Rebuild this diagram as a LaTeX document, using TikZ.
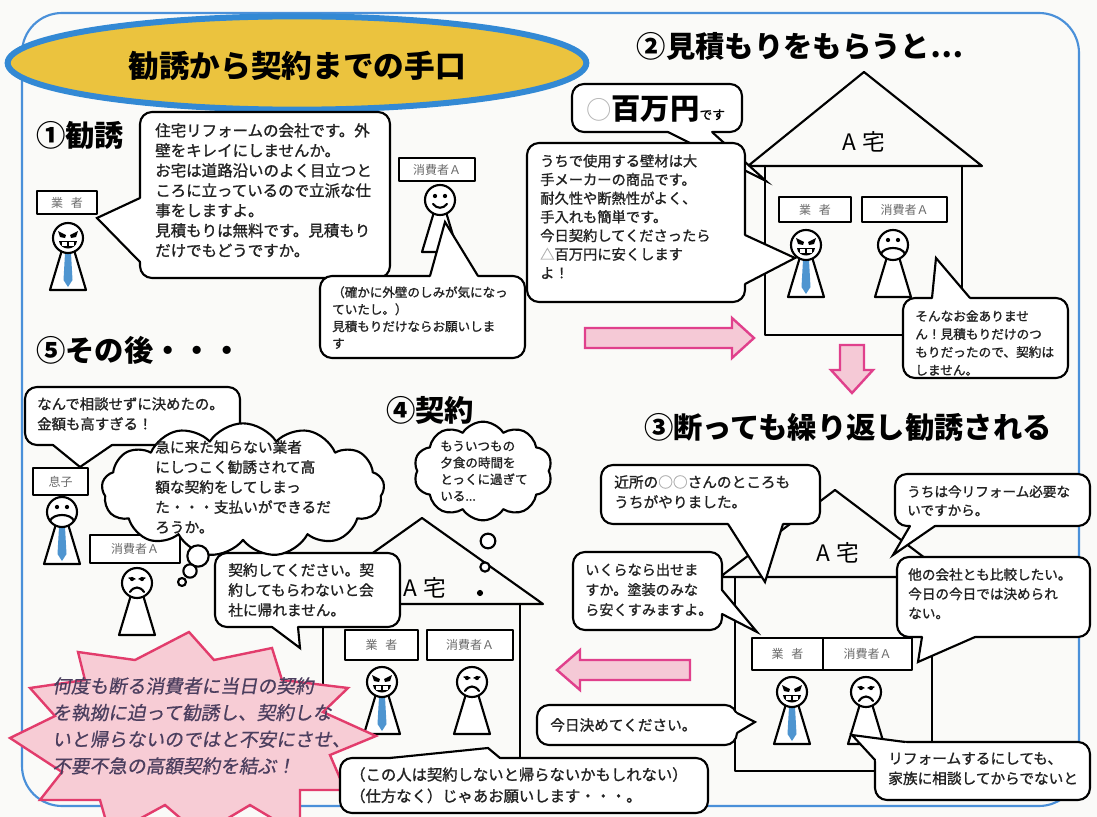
\documentclass[tikz,border=0pt]{standalone}
\usepackage{fontspec}
\setmainfont{Noto Sans CJK JP}
\newfontfamily\slantjp{Noto Sans CJK JP}[FakeSlant=0.18, FakeBold=0.8]
\newfontfamily\jpmed{Noto Sans CJK JP}[FakeBold=1.2]
\usetikzlibrary{shapes.symbols}

\definecolor{paper}{HTML}{FAFAF8}
\definecolor{frameblue}{HTML}{4A90D9}
\definecolor{ringblue}{HTML}{3389D4}
\definecolor{gold}{HTML}{EBC33E}
\definecolor{arrowpink}{HTML}{F5C9D6}
\definecolor{arrowedge}{HTML}{E0408C}
\definecolor{burstfill}{HTML}{F7CCD5}
\definecolor{burstedge}{HTML}{E23C6C}
\definecolor{tieblue}{HTML}{4F95D0}
\definecolor{labelgray}{HTML}{6A6A6A}
\definecolor{burstink}{HTML}{4B3E5E}
\definecolor{paleink}{HTML}{B5B5B5}
\definecolor{inkdark}{HTML}{222222}

\newcommand\fsz[2]{\fontsize{#1}{#2}\selectfont}

\tikzset{
  fig/.style={line width=1.6pt, line join=round, line cap=round},
  bub/.style={fig, fill=white, rounded corners=9pt},
  say/.style={anchor=north west, inner sep=0pt, align=left, text=inkdark},
  tagtxt/.style={inner sep=0pt, text=labelgray, font=\fsz{9}{10}},
  ttl/.style={inner sep=0pt, font={\fsz{22}{26}\bfseries}},
  housetxt/.style={inner sep=0pt, font=\fsz{17}{20}},
  cloudy/.style={cloud, cloud puffs=12, cloud puff arc=115, cloud ignores aspect,
    draw, fig, fill=white, inner sep=0pt},
  pinkarrow/.style={draw=arrowedge, fill=arrowpink, line width=1.8pt, line join=miter},
}

% speech bubble: corner, corner, tail base 1, tail tip, tail base 2, inward shift
\newcommand\bubble[6]{%
  \draw[bub] (#1) rectangle (#2);
  \fill[white] ([shift={(#6)}]#3) -- (#3) -- (#4) -- (#5) -- ([shift={(#6)}]#5) -- cycle;
  \draw[fig, line join=miter] (#3) -- (#4) -- (#5);
}

% name plate above a figure
\newcommand\tagbox[6]{%
  \draw[fig, fill=white] (#2,#3) rectangle (#4,#5);
  \node[tagtxt] (#1) at ({(#2+#4)/2},{(#3+#5)/2}) {#6};
}

% faces
\newcommand\faceGrin{%
  \fill (-10,-7) -- (-2,-3) -- (-3,0) -- (-8,-1) -- cycle;
  \fill (10,-7) -- (2,-3) -- (3,0) -- (8,-1) -- cycle;
  \fill (-9,3) .. controls (-8,13) and (8,13) .. (9,3) -- cycle;
  \fill[white] (-6,4) rectangle (-1,7.5);
  \fill[white] (1,4) rectangle (6,7.5);
}
\newcommand\faceSmile{%
  \fill (-5,-4) circle[radius=1.6pt];
  \fill (5,-4) circle[radius=1.6pt];
  \draw[fig] (-7,4) .. controls (-3,9) and (3,9) .. (7,4);
}
\newcommand\faceSad{%
  \fill (-5,-4) circle[radius=1.6pt];
  \fill (5,-4) circle[radius=1.6pt];
  \draw[fig, line width=1.1pt] (-8,-5) -- (-2,-4);
  \draw[fig, line width=1.1pt] (8,-5) -- (2,-4);
  \draw[fig] (-7,9) .. controls (-3,3) and (3,3) .. (7,9);
}
\newcommand\faceGruff{%
  \fill (-5,-5) circle[radius=1.6pt];
  \fill (5,-5) circle[radius=1.6pt];
  \draw[fig] (-12,9) .. controls (-9,1) and (9,1) .. (12,9);
}

% figure: x, y (head centre), tie (1/0), face
\newcommand\person[4]{%
  \begin{scope}[shift={(#1,#2)}]
    \draw[fig, fill=white] (-6,12) -- (-18,52) -- (18,52) -- (6,12) -- cycle;
    \ifnum#3=1 \fill[tieblue] (-3,15) -- (3,15) -- (4.5,42) -- (0,49) -- (-4.5,42) -- cycle;\fi
    \draw[fig, fill=white] (0,0) circle[radius=11.25pt];
    #4
  \end{scope}}

\begin{document}
\begin{tikzpicture}[x=0.75pt, y=-0.75pt]
\useasboundingbox (0,0) rectangle (1097,817);
\fill[paper] (0,0) rectangle (1097,817);

% outer frame
\draw[frameblue, line width=1.6pt, rounded corners=30pt] (22,13) rectangle (1079,806);

% heading
\draw[ringblue, line width=4.5pt, fill=gold] (297,63) ellipse [x radius=217pt, y radius=35pt];
\node[inner sep=0pt, font={\fsz{23}{28}\bfseries}] (heading) at (297,66) {勧誘から契約までの手口};

% section titles
\node[ttl, anchor=west] (t1) at (36,135) {①勧誘};
\node[ttl] (t2) at (800,46) {②見積もりをもらうと…};
\node[ttl] (t3) at (848,427) {③断っても繰り返し勧誘される};
\node[ttl] (t4) at (430,410) {④契約};
\node[ttl, anchor=west] (t5) at (36,350) {⑤その後・・・};

% houses
\draw[fig] (748,166) -- (864,72) -- (982,166) -- cycle;
\draw[fig] (765,166) -- (765,335) -- (905,335);
\draw[fig] (962,166) -- (962,300);
\node[housetxt] (h2) at (864,142) {A\hspace{5pt}宅};

\draw[fig] (720,577) -- (835,490) -- (950,577) -- cycle;
\draw[fig] (735,577) -- (735,771) -- (880,771);
\draw[fig] (932,577) -- (932,745);
\node[housetxt] (h3) at (838,553) {A\hspace{5pt}宅};

\draw[fig] (301,604) -- (422,518) -- (543,604) -- cycle;
\draw[fig] (323,604) -- (323,770);
\draw[fig] (520,604) -- (520,770);
\node[housetxt] (h4) at (425,588) {A\hspace{5pt}宅};

% name plates
\tagbox{g1}{37}{191}{97}{214}{業\hspace{6pt}者}
\tagbox{c1}{399}{158}{475}{181}{消費者Ａ}
\tagbox{g2}{779}{197}{851}{222}{業\hspace{6pt}者}
\tagbox{c2}{862}{197}{947}{222}{消費者Ａ}
\tagbox{g3}{752}{638}{823}{670}{業\hspace{6pt}者}
\tagbox{c3}{823}{638}{912}{670}{消費者Ａ}
\tagbox{g4}{345}{630}{418}{660}{業\hspace{6pt}者}
\tagbox{c4}{427}{630}{513}{660}{消費者Ａ}
\tagbox{s5}{33}{468}{88}{495}{息子}
\tagbox{c5}{90}{535}{180}{563}{消費者Ａ}

% figures
\person{68}{238}{1}{\faceGrin}
\person{440}{200}{0}{\faceSmile}
\person{806}{245}{1}{\faceGrin}
\person{893}{245}{0}{\faceGruff}
\person{792}{692}{1}{\faceGrin}
\person{866}{692}{0}{\faceSad}
\person{382}{682}{1}{\faceGrin}
\person{472}{682}{0}{\faceSad}
\person{62}{512}{1}{\faceGruff}
\person{137}{583}{0}{\faceSad}

% flow arrows
\draw[pinkarrow] (585,328) -- (732,328) -- (732,318) -- (754,338) -- (732,358) -- (732,348) -- (585,348) -- cycle;
\draw[pinkarrow] (840,345) -- (864,345) -- (864,370) -- (873,370) -- (852,393) -- (831,370) -- (840,370) -- cycle;
\draw[pinkarrow] (690,660) -- (580,660) -- (580,650) -- (557,670) -- (580,690) -- (580,680) -- (690,680) -- cycle;

% 1: canvassing
\bubble{140,112}{390,278}{140,198}{97,218}{140,262}{4,0}
\node[say, font={\jpmed\fsz{11.6}{15}}] (b1) at (155,123) {住宅リフォームの会社です。外\\壁をキレイにしませんか。\\お宅は道路沿いのよく目立つと\\ころに立っているので立派な仕\\事をしますよ。\\見積もりは無料です。見積もり\\だけでもどうですか。};
\bubble{320,276}{525,358}{430,276}{445,222}{478,276}{0,4}
\node[say, font={\jpmed\fsz{9.4}{12.8}}] (r1) at (332,286) {（確かに外壁のしみが気になっ\\ていたし。）\\見積もりだけならお願いしま\\す};

% 2: the estimate
\bubble{572,84}{742,132}{668,132}{766,181}{712,132}{0,-4}
\node[anchor=west, inner sep=0pt] (price) at (586,109) {{\fsz{19}{24}\color{paleink}○}{\fsz{22}{26}\bfseries 百万円}{\jpmed\fsz{9.5}{12}です}};
\bubble{527,143}{745,302}{745,235}{795,258}{745,284}{-4,0}
\node[say, font={\jpmed\fsz{10.7}{14}}] (b2) at (540,154) {うちで使用する壁材は大\\手メーカーの商品です。\\耐久性や断熱性がよく、\\手入れも簡単です。\\今日契約してくださったら\\{\color{paleink}△}百万円に安くします\\よ！};
\bubble{903,298}{1068,378}{932,298}{936,258}{970,298}{0,4}
\node[say, font={\jpmed\fsz{9.5}{13.5}}] (r2) at (915,310) {そんなお金ありませ\\ん！見積もりだけのつ\\もりだったので、契約は\\しません。};

% 3: repeated canvassing
\bubble{601,465}{820,524}{728,524}{765,582}{783,524}{0,-4}
\node[say, font={\jpmed\fsz{11}{15}}] (b3a) at (614,475) {近所の{\color{paleink}○○}さんのところも\\うちがやりました。};
\bubble{895,474}{1090,526}{910,526}{893,555}{935,526}{0,-4}
\node[say, font={\jpmed\fsz{10.2}{14}}] (r3a) at (907,485) {うちは今リフォーム必要な\\いですから。};
\bubble{573,552}{722,630}{722,590}{757,632}{722,614}{-4,0}
\node[say, font={\jpmed\fsz{10.6}{15}}] (b3b) at (585,563) {いくらなら出せま\\すか。塗装のみな\\ら安くすみますよ。};
\bubble{897,557}{1090,637}{922,637}{918,662}{975,637}{0,-4}
\node[say, font={\jpmed\fsz{10.2}{14.5}}] (r3b) at (908,568) {他の会社とも比較したい。\\今日の今日では決められ\\ない。};
\bubble{537,705}{737,745}{737,713}{755,722}{737,733}{-4,0}
\node[anchor=west, inner sep=0pt, text=inkdark, font={\jpmed\fsz{11}{15}}] (b3c) at (550,725) {今日決めてください。};
\bubble{875,742}{1090,800}{875,760}{852,735}{905,742}{4,4}
\node[say, font={\jpmed\fsz{11}{15}}] (r3c) at (888,752) {リフォームするにしても、\\家族に相談してからでないと};

% 4: the contract
\bubble{215,553}{400,627}{272,627}{300,648}{298,627}{0,-4}
\node[say, font={\jpmed\fsz{11}{15}}] (b4) at (228,563) {契約してください。契\\約してもらわないと会\\社に帰れません。};
\node[cloudy, cloud puffs=10, minimum width=104pt, minimum height=74pt] (k4) at (483,471) {};
\node[inner sep=0pt, align=left, text=inkdark, font={\jpmed\fsz{9.4}{12.5}}] (k4t) at (484,471) {もういつもの\\夕食の時間を\\とっくに過ぎて\\いる...};
\draw[fig, fill=white] (488,541) circle[radius=5.5pt];
\draw[fig, fill=white] (485,567) circle[radius=3.5pt];
\fill (480,593) circle[radius=2.3pt];

% 5: afterwards
\bubble{25,387}{240,445}{53,445}{80,467}{112,445}{0,-4}
\node[say, font={\jpmed\fsz{10.8}{15}}] (b5) at (37,397) {なんで相談せずに決めたの。\\金額も高すぎる！};
\node[cloudy, cloud puffs=13, minimum width=212pt, minimum height=100pt] (k5) at (243,490) {};
\node[say, font={\jpmed\fsz{11}{15}}] (k5t) at (155,440) {急に来た知らない業者\\にしつこく勧誘されて高\\額な契約をしてしまっ\\た・・・支払いができるだ\\ろうか。};
\draw[fig, fill=white] (198,556) circle[radius=8pt];
\draw[fig, fill=white] (190,571) circle[radius=5pt];
\draw[fig, fill=white] (182,582) circle[radius=3pt];

% warning burst
\draw[burstedge, fill=burstfill, line width=1.8pt, line join=miter]
  (189,632) -- (214,660) -- (272,648) -- (282,680) -- (348,688) -- (323,712)
  -- (376,736) -- (330,755) -- (345,790) -- (300,790) -- (300,835) -- (250,805)
  -- (200,835) -- (165,805) -- (110,835) -- (100,800) -- (40,800) -- (62,772)
  -- (10,738) -- (55,716) -- (30,688) -- (85,680) -- (78,652) -- (135,660) -- cycle;
\node[say, text=burstink, font={\slantjp\fsz{14}{20}}] (warn) at (52,677) {何度も断る消費者に当日の契約\\を執拗に迫って勧誘し、契約しな\\いと帰らないのではと不安にさせ、\\不要不急の高額契約を結ぶ！};

\bubble{340,758}{708,813}{390,758}{488,748}{500,758}{0,4}
\node[say, font={\jpmed\fsz{11.5}{16}}] (b4b) at (350,767) {（この人は契約しないと帰らないかもしれない）\\（仕方なく）じゃあお願いします・・・。};
\end{tikzpicture}
\end{document}
